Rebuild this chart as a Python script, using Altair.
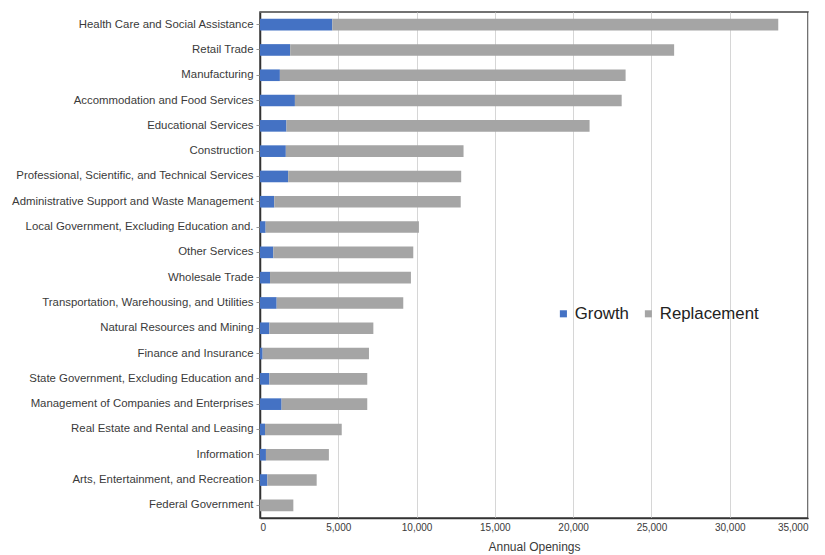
import altair as alt
import pandas as pd

industries = [
    "Health Care and Social Assistance",
    "Retail Trade",
    "Manufacturing",
    "Accommodation and Food Services",
    "Educational Services",
    "Construction",
    "Professional, Scientific, and Technical Services",
    "Administrative Support and Waste Management",
    "Local Government, Excluding Education and.",
    "Other Services",
    "Wholesale Trade",
    "Transportation, Warehousing, and Utilities",
    "Natural Resources and Mining",
    "Finance and Insurance",
    "State Government, Excluding Education and",
    "Management of Companies and Enterprises",
    "Real Estate and Rental and Leasing",
    "Information",
    "Arts, Entertainment, and Recreation",
    "Federal Government",
]

growth = [4620, 1930, 1270, 2230, 1690, 1650, 1800, 910, 360, 850,
          640, 1065, 600, 170, 600, 1380, 320, 380, 470, 0]

replacement = [28480, 24520, 22080, 20870, 19360, 11350, 11050, 11910, 9790, 8940,
               9000, 8085, 6640, 6790, 6250, 5470, 4900, 4020, 3150, 2130]

series = ["Growth", "Replacement"]
series_colors = ["#4472C4", "#A5A5A5"]

rows = []
for name, g, r in zip(industries, growth, replacement):
    rows.append({"industry": name, "kind": "Growth", "openings": g, "rank": 0})
    rows.append({"industry": name, "kind": "Replacement", "openings": r, "rank": 1})
df = pd.DataFrame(rows)

font = "Liberation Sans"

bars = alt.Chart(df).mark_bar(stroke=None).encode(
    y=alt.Y(
        "industry:N",
        sort=industries,
        title=None,
        scale=alt.Scale(paddingInner=0.54, paddingOuter=0.27),
        axis=alt.Axis(
            labelFont=font,
            labelFontSize=11.4,
            labelColor="#3a3a3a",
            labelLimit=400,
            labelPadding=3,
            ticks=True,
            tickSize=4,
            tickColor="#999999",
            domain=True,
            domainColor="#333333",
            domainWidth=1.5,
            grid=False,
        ),
    ),
    x=alt.X(
        "sum(openings):Q",
        stack="zero",
        title="Annual Openings",
        scale=alt.Scale(domain=[0, 35000], nice=False),
        axis=alt.Axis(
            values=[0, 5000, 10000, 15000, 20000, 25000, 30000, 35000],
            format=",d",
            labelFont=font,
            labelFontSize=10,
            labelColor="#3a3a3a",
            labelPadding=4,
            ticks=False,
            domain=True,
            domainColor="#333333",
            domainWidth=1.5,
            grid=True,
            gridColor="#d6d6d6",
            gridWidth=1,
            titleFont=font,
            titleFontSize=12,
            titleFontWeight="normal",
            titleColor="#3a3a3a",
            titlePadding=9,
        ),
    ),
    color=alt.Color(
        "kind:N",
        scale=alt.Scale(domain=series, range=series_colors),
        legend=alt.Legend(
            title=None,
            orient="none",
            direction="horizontal",
            legendX=295,
            legendY=293,
            symbolType="square",
            symbolSize=50,
            symbolStrokeWidth=0,
            labelFont=font,
            labelFontSize=16.8,
            labelColor="#222222",
            labelOffset=3,
            columnPadding=11,
        ),
    ),
    order=alt.Order("rank:Q"),
)

chart = bars.properties(
    width=548,
    height=506,
    autosize=alt.AutoSizeParams(type="none"),
    padding={"left": 260, "top": 12, "right": 17, "bottom": 37},
    background="white",
).configure_view(
    stroke="#444444",
    strokeWidth=1.5,
)

chart.save("out.html", embed_options={"renderer": "svg", "actions": False})
